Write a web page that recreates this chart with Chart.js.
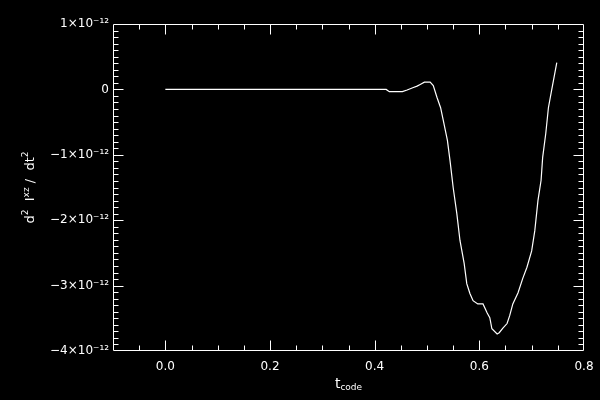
<!DOCTYPE html>
<html>
<head>
<meta charset="utf-8">
<script src="https://cdn.jsdelivr.net/npm/chart.js@4/dist/chart.umd.min.js"></script>
<style>
	html, body { margin: 0; padding: 0; background: #000; }
</style>
</head>
<body>
<canvas id="chart" width="600" height="400"></canvas>
<script>
// time in code units
const tCode = [0.000, 0.100, 0.200, 0.300, 0.400, 0.422, 0.428, 0.453, 0.462, 0.474, 0.481, 0.487, 0.495, 0.506, 0.512,
	0.519, 0.526, 0.531, 0.539, 0.544, 0.550, 0.557, 0.563, 0.571, 0.576, 0.582, 0.588, 0.597, 0.607, 0.615, 0.620,
	0.624, 0.634, 0.638, 0.645, 0.653, 0.658, 0.664, 0.674, 0.683, 0.691, 0.700, 0.706, 0.712, 0.718, 0.721, 0.727,
	0.732, 0.738, 0.748];
// d2 Ixz / dt2, in units of 1e-12
const d2Ixz = [0.00, 0.00, 0.00, 0.00, 0.00, 0.00, -0.035, -0.035, -0.01, 0.03, 0.05, 0.075, 0.11, 0.11, 0.06,
	-0.12, -0.28, -0.47, -0.78, -1.09, -1.50, -1.90, -2.31, -2.66, -2.97, -3.12, -3.23, -3.28, -3.28, -3.42, -3.49,
	-3.66, -3.74, -3.72, -3.65, -3.58, -3.46, -3.28, -3.11, -2.89, -2.72, -2.47, -2.16, -1.70, -1.39, -1.04, -0.67,
	-0.28, -0.02, 0.41];

const xTicks = [0.0, 0.2, 0.4, 0.6, 0.8];
const xTickLabels = ['0.0', '0.2', '0.4', '0.6', '0.8'];
const yTicks = [-4, -3, -2, -1, 0, 1];
const yTickLabels = ['−4×10⁻¹²', '−3×10⁻¹²', '−2×10⁻¹²', '−1×10⁻¹²', '0', '1×10⁻¹²'];

const FONT = "'DejaVu Sans', sans-serif";

/* draw text pieces: [text, size, raise] one after another */
function drawPieces(ctx, pieces, cx, baseline) {
	let total = 0;
	pieces.forEach(p => {
		ctx.font = p[1] + 'px ' + FONT;
		total += ctx.measureText(p[0]).width;
	});
	let x = cx - total / 2;
	pieces.forEach(p => {
		ctx.font = p[1] + 'px ' + FONT;
		ctx.fillText(p[0], x, baseline - p[2]);
		x += ctx.measureText(p[0]).width;
	});
}

/* IDL style box: frame, inward ticks on all sides, axis titles */
const idlFrame = {
	id: 'idlFrame',
	beforeDraw(chart) {
		const ctx = chart.ctx;
		ctx.save();
		ctx.fillStyle = '#000';
		ctx.fillRect(0, 0, chart.width, chart.height);
		ctx.restore();
	},
	afterDatasetsDraw(chart) {
		const { ctx, chartArea: a, scales: { x, y } } = chart;
		const L = Math.round(a.left) + 0.5, R = Math.round(a.right) - 0.5;
		const T = Math.round(a.top) + 0.5, B = Math.round(a.bottom) - 0.5;
		ctx.save();
		ctx.strokeStyle = '#fff';
		ctx.lineWidth = 1;
		ctx.beginPath();
		ctx.rect(L, T, R - L, B - T);

		// x ticks every 0.05, majors every 0.2
		for (let i = -1; i <= 15; i++) {
			const px = Math.round(x.getPixelForValue(i * 0.05)) + 0.5;
			const len = i % 4 === 0 ? 10 : 5;
			ctx.moveTo(px, B); ctx.lineTo(px, B - len);
			ctx.moveTo(px, T); ctx.lineTo(px, T + len);
		}
		// y ticks every 0.1, majors every 1
		for (let i = -39; i <= 9; i++) {
			const py = Math.round(y.getPixelForValue(i / 10)) + 0.5;
			const len = i % 10 === 0 ? 10 : 5;
			ctx.moveTo(L, py); ctx.lineTo(L + len, py);
			ctx.moveTo(R, py); ctx.lineTo(R - len, py);
		}
		ctx.stroke();

		// axis titles
		ctx.fillStyle = '#fff';
		ctx.textBaseline = 'alphabetic';
		ctx.textAlign = 'left';
		drawPieces(ctx, [['t', 14, 0], ['code', 9, -2]], (a.left + a.right) / 2, 388);

		ctx.translate(34, (a.top + a.bottom) / 2);
		ctx.rotate(-Math.PI / 2);
		drawPieces(ctx, [['d', 13, 0], ['2', 9, 6], ['  I', 13, 0], ['xz', 9, 5], [' /  dt', 13, 0], ['2', 9, 6]], 0, 0);
		ctx.restore();
	}
};

new Chart(document.getElementById('chart'), {
	type: 'line',
	data: {
		datasets: [{
			data: tCode.map((t, i) => ({ x: t, y: d2Ixz[i] })),
			borderColor: '#fff',
			borderWidth: 1.2,
			pointRadius: 0,
			tension: 0,
			fill: false
		}]
	},
	options: {
		responsive: false,
		animation: false,
		layout: { padding: { top: 24, right: 16, left: 0, bottom: 0 } },
		plugins: {
			legend: { display: false },
			tooltip: { enabled: false }
		},
		scales: {
			x: {
				type: 'linear',
				min: -0.1,
				max: 0.8,
				grid: { display: false, drawTicks: false },
				border: { display: false },
				afterBuildTicks: scale => { scale.ticks = xTicks.map(v => ({ value: v })); },
				afterFit: scale => {
					scale.height = 49;
					scale.paddingLeft = 0;
					scale.paddingRight = 0;
				},
				ticks: {
					color: '#fff',
					padding: 9,
					maxRotation: 0,
					font: { family: FONT, size: 12 },
					callback: value => xTickLabels[xTicks.indexOf(value)]
				}
			},
			y: {
				type: 'linear',
				min: -4,
				max: 1,
				grid: { display: false, drawTicks: false },
				border: { display: false },
				afterBuildTicks: scale => { scale.ticks = yTicks.map(v => ({ value: v })); },
				afterFit: scale => {
					scale.width = 113;
					scale.paddingTop = 0;
					scale.paddingBottom = 0;
				},
				ticks: {
					color: '#fff',
					padding: 4,
					font: { family: FONT, size: 12 },
					callback: value => yTickLabels[yTicks.indexOf(value)]
				}
			}
		}
	},
	plugins: [idlFrame]
});
</script>
</body>
</html>
